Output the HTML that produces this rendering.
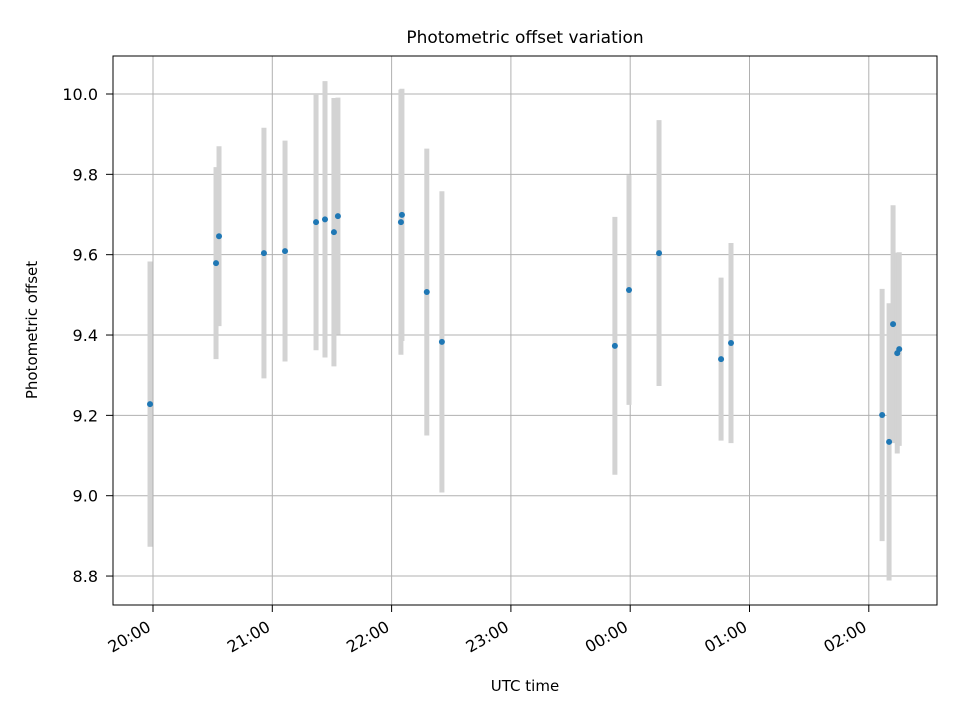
<!DOCTYPE html>
<html><head><meta charset="utf-8"><style>
body{margin:0;background:#fff}
svg{font-family:"DejaVu Sans","Liberation Sans",sans-serif}
</style></head><body>
<svg id="chart" width="960" height="720" xmlns="http://www.w3.org/2000/svg">
<rect width="960" height="720" fill="#fff"/>
<text x="525" y="43" font-size="17" text-anchor="middle">Photometric offset variation</text>
<g id="grid"></g><g id="bars"></g><g id="pts"></g><g id="axes"></g>
<rect x="113" y="56" width="824" height="549" fill="none" stroke="#000" stroke-width="1"/>
<text x="525" y="691" font-size="15" text-anchor="middle">UTC time</text>
<text transform="translate(37,330) rotate(-90)" font-size="15" text-anchor="middle">Photometric offset</text>
</svg>
<script>
const minutes=[-1.5,31.7,33.2,55.8,66.4,82.0,86.5,91.0,93.0,124.7,125.2,137.7,145.3,232.3,239.4,254.5,285.7,290.7,366.7,370.2,372.2,374.3,375.3];
const values=[9.228,9.579,9.646,9.604,9.609,9.681,9.688,9.656,9.696,9.681,9.699,9.507,9.383,9.373,9.512,9.604,9.340,9.380,9.201,9.134,9.427,9.355,9.365];
const errors=[0.355,0.239,0.224,0.312,0.275,0.319,0.344,0.334,0.295,0.330,0.314,0.357,0.375,0.321,0.286,0.331,0.203,0.249,0.314,0.345,0.296,0.250,0.241];
const yTicks=[8.8,9.0,9.2,9.4,9.6,9.8,10.0];
const xTickMinutes=[0,60,120,180,240,300,360];
const xTickLabels=["20:00","21:00","22:00","23:00","00:00","01:00","02:00"];
const NS="http://www.w3.org/2000/svg";
const xs=m=>153+m*119.3/60;
const ys=v=>94+(10-v)*401.7;
function mk(tag,attrs,parent,txt){const e=document.createElementNS(NS,tag);for(const k in attrs)e.setAttribute(k,attrs[k]);if(txt!==undefined)e.textContent=txt;document.getElementById(parent).appendChild(e);return e;}
yTicks.forEach(v=>{
  const y=ys(v);
  const g=mk('line',{x1:113,x2:937,y1:y,y2:y,stroke:'#b0b0b0','stroke-width':1},'grid');
  
  
  mk('line',{x1:106,x2:113,y1:y,y2:y,stroke:'#000'},'axes');
  const t=mk('text',{x:98,y:y+6,'font-size':16,'text-anchor':'end'},'axes',v.toFixed(1));
  
  
});
xTickMinutes.forEach((m,i)=>{
  const x=xs(m);
  const g=mk('line',{x1:x,x2:x,y1:56,y2:605,stroke:'#b0b0b0','stroke-width':1},'grid');
  
  
  mk('line',{x1:x,x2:x,y1:605,y2:612,stroke:'#000'},'axes');
  const t=mk('text',{transform:`translate(${x-1},${630}) rotate(-30)`,'font-size':16,'text-anchor':'end'},'axes',xTickLabels[i]);
  
  
});
minutes.forEach((m,i)=>{
  const x=xs(m);
  const b=mk('line',{x1:x,x2:x,y1:ys(values[i]+errors[i]),y2:ys(values[i]-errors[i]),stroke:'#d3d3d3','stroke-width':5},'bars');
  
  
  const p=mk('circle',{cx:x,cy:ys(values[i]),r:3,fill:'#1f77b4'},'pts');
  
  
});
</script>
</body></html>
